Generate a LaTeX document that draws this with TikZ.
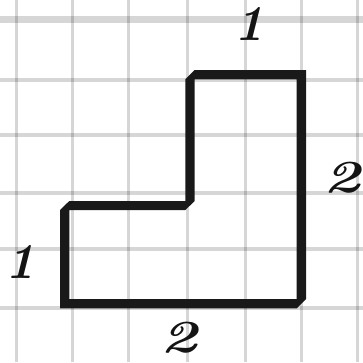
\documentclass[tikz,border=0pt]{standalone}
\begin{document}
\begin{tikzpicture}[x=1pt,y=-1pt,
  gridv/.style={line width=3pt,black,opacity=0.16},
  gridh/.style={line width=4pt,black,opacity=0.16},
  lbl/.style={inner sep=0pt,font=\fontsize{50}{50}\selectfont\bfseries\itshape,text=black!92},
  lbltwo/.style={lbl,xscale=1.25,yscale=0.92}]
\useasboundingbox (0,0) rectangle (363,362);
\fill[white] (0,0) rectangle (363,362);
% grid
\foreach \x in {16.5,72.7,128.7,187.5,245.7,301.7,357.5}
  \draw[gridv] (\x,0) -- (\x,362);
\draw[line width=6.5pt,black,opacity=0.16] (0,19.5) -- (363,19.5);
\foreach \y in {79.5,135.3,193.3,248.7,308.3}
  \draw[gridh] (0,\y) -- (363,\y);
% L-shaped outline with chamfered corners
\fill[black!90,even odd rule]
  (60,210) -- (69.3,201) -- (185.3,201) -- (185.3,79.3) -- (194.7,70) -- (306,70)
  -- (306,299) -- (296.7,308.3) -- (60,308.3) -- cycle
  (69.3,210) -- (185.3,210) -- (194.7,201) -- (194.7,79.3) -- (296.7,79.3)
  -- (296.7,299) -- (69.3,299) -- cycle;
% labels
\node[lbl] (top) at (249,24) {1};
\node[lbltwo] (right) at (342,178) {2};
\node[lbl] (left) at (20,262) {1};
\node[lbltwo] (bottom) at (179,338) {2};
\end{tikzpicture}
\end{document}
